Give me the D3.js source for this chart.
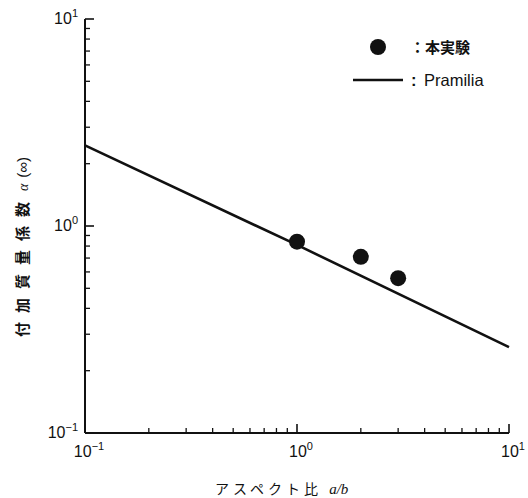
<!doctype html>
<html>
  <head>
    <meta charset="utf-8">
    <title>付加質量係数</title>
    <script src="https://cdnjs.cloudflare.com/ajax/libs/d3/7.8.5/d3.min.js"></script>
    <style>
      body { margin: 0; background: #fff; }
      text { font-family: "Liberation Sans", Arial, sans-serif; fill: #111; }
      .jp { font-family: "Noto Sans CJK JP", sans-serif; }
    </style>
  </head>
  <body>
    <div id="chart"></div>
    <script>
      // measured points (本実験)
      const expAspect = [1, 2, 3];
      const expAlpha = [0.84, 0.71, 0.56];

      // Pramilia curve
      const lineAspect = [0.1, 1, 10];
      const lineAlpha = [2.45, 0.81, 0.26];

      const xMajor = [0.1, 1, 10];
      const yMajor = [0.1, 1, 10];
      const tickExp = ['−1', '0', '1'];

      const W = 528, H = 498;
      const svg = d3.select('#chart').append('svg')
        .attr('width', W).attr('height', H);

      const x = d3.scaleLog().domain([0.1, 10]).range([85, 509]);
      const y = d3.scaleLog().domain([0.1, 10]).range([433, 19]);

      // minor ticks 2..9 of each decade
      const minors = [];
      [0.1, 1].forEach(d => { for (let k = 2; k <= 9; k++) minors.push(d * k); });

      const g = svg.append('g').attr('stroke', '#111').attr('fill', 'none');

      // axes lines
      g.append('line').attr('x1', x(0.1)).attr('x2', x(0.1))
        .attr('y1', y(10)).attr('y2', y(0.1)).attr('stroke-width', 2);
      g.append('line').attr('x1', x(0.1)).attr('x2', x(10))
        .attr('y1', y(0.1)).attr('y2', y(0.1)).attr('stroke-width', 2);

      // y ticks (inward)
      g.selectAll('.ymaj').data(yMajor).join('line')
        .attr('x1', x(0.1)).attr('x2', x(0.1) + 9)
        .attr('y1', d => y(d)).attr('y2', d => y(d)).attr('stroke-width', 1.6);
      g.selectAll('.ymin').data(minors).join('line')
        .attr('x1', x(0.1)).attr('x2', x(0.1) + 5)
        .attr('y1', d => y(d)).attr('y2', d => y(d)).attr('stroke-width', 1.3);

      // x ticks (inward)
      g.selectAll('.xmaj').data(xMajor).join('line')
        .attr('x1', d => x(d)).attr('x2', d => x(d))
        .attr('y1', y(0.1)).attr('y2', y(0.1) - 9).attr('stroke-width', 1.6);
      g.selectAll('.xmin').data(minors).join('line')
        .attr('x1', d => x(d)).attr('x2', d => x(d))
        .attr('y1', y(0.1)).attr('y2', y(0.1) - 5).attr('stroke-width', 1.3);

      // tick labels
      function powLabel(sel, px, py, anchor, e) {
        const t = sel.append('text').attr('x', px).attr('y', py)
          .attr('text-anchor', anchor).attr('font-size', 16);
        t.append('tspan').text('10');
        t.append('tspan').attr('dy', -7).attr('font-size', 11).text(e);
      }
      yMajor.forEach((d, i) => powLabel(svg, x(0.1) - 7, y(d) + 5, 'end', tickExp[i]));
      xMajor.forEach((d, i) => powLabel(svg, x(d) + 4, y(0.1) + 24, 'middle', tickExp[i]));

      // Pramilia line
      const pts = lineAspect.map((a, i) => [a, lineAlpha[i]]);
      svg.append('path').datum(pts)
        .attr('d', d3.line().x(d => x(d[0])).y(d => y(d[1])))
        .attr('fill', 'none').attr('stroke', '#111').attr('stroke-width', 2.6);

      // experiment points
      svg.selectAll('circle.exp').data(expAspect).join('circle')
        .attr('class', 'exp')
        .attr('cx', d => x(d)).attr('cy', (d, i) => y(expAlpha[i]))
        .attr('r', 8).attr('fill', '#111');

      // legend
      svg.append('circle').attr('cx', 378).attr('cy', 47).attr('r', 8).attr('fill', '#111');
      svg.append('text').attr('class', 'jp').attr('x', 410).attr('y', 53)
        .attr('font-size', 15).attr('font-weight', 'bold').text('：本実験');
      svg.append('line').attr('x1', 353).attr('x2', 403).attr('y1', 80).attr('y2', 80)
        .attr('stroke', '#111').attr('stroke-width', 2.6);
      const lt = svg.append('text').attr('x', 411).attr('y', 86).attr('font-size', 16.5);
      lt.append('tspan').attr('font-weight', 'bold').text(':');
      lt.append('tspan').attr('x', 424).text('Pramilia');

      // axis titles
      const xt = svg.append('text').attr('x', 215).attr('y', 494).attr('font-size', 14);
      xt.append('tspan').attr('class', 'jp').attr('letter-spacing', 4).text('アスペクト比 ');
      xt.append('tspan').attr('font-style', 'italic').attr('font-family', 'Liberation Serif').attr('font-size', 15).text('a/b');

      const yt = svg.append('text').attr('transform', 'translate(28,337) rotate(-90)')
        .attr('font-size', 15);
      yt.append('tspan').attr('class', 'jp').attr('font-weight', 'bold').attr('letter-spacing', 9).text('付加質量係数');
      yt.append('tspan').attr('dx', 2).attr('font-style', 'italic').attr('font-family', 'Liberation Serif').attr('font-size', 14).text('α');
      yt.append('tspan').attr('dx', 6).attr('font-size', 15).text('(∞)');
    </script>
  </body>
</html>
